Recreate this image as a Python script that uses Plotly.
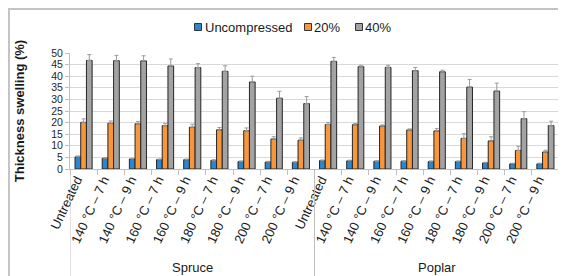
import plotly.graph_objects as go

groups = ["Spruce", "Poplar"]
treatments = ["Untreated", "140 °C – 7 h", "140 °C – 9 h", "160 °C – 7 h", "160 °C – 9 h",
              "180 °C – 7 h", "180 °C – 9 h", "200 °C – 7 h", "200 °C – 9 h"]
tick_labels = treatments + treatments

uncompressed = [5.2, 4.6, 4.3, 4.0, 4.0, 3.7, 3.2, 3.0, 2.9,
                3.6, 3.5, 3.3, 3.3, 3.2, 3.2, 2.6, 2.2, 2.2]
uncompressed_err = [0.4, 0.3, 0.3, 0.3, 0.3, 0.3, 0.3, 0.3, 0.3,
                    0.3, 0.3, 0.3, 0.3, 0.3, 0.3, 0.3, 0.3, 0.3]
c20 = [20.1, 19.7, 19.5, 18.7, 18.0, 16.9, 16.5, 12.9, 12.4,
       19.2, 19.1, 18.5, 16.8, 16.4, 13.2, 12.1, 8.0, 7.3]
c20_err = [1.5, 1.0, 1.0, 1.0, 1.3, 1.0, 1.2, 1.0, 1.0,
           0.8, 0.5, 0.5, 0.5, 1.0, 2.0, 1.8, 1.8, 0.8]
c40 = [46.8, 46.7, 46.6, 44.4, 43.7, 42.1, 37.5, 30.5, 28.2,
       46.4, 44.1, 43.8, 42.4, 41.9, 35.3, 33.6, 21.7, 18.7]
c40_err = [2.5, 2.3, 2.2, 3.0, 1.7, 2.4, 2.5, 3.0, 3.0,
           1.7, 0.6, 0.9, 1.4, 0.7, 3.3, 3.4, 3.0, 1.9]

series_names = ["Uncompressed", "20%", "40%"]
series_colors = ["#2a86cf", "#f7963a", "#a3a3a3"]

x = list(range(len(tick_labels)))
n_per_group = len(treatments)

fig = go.Figure()
for name, vals, errs, col in zip(series_names, [uncompressed, c20, c40],
                                 [uncompressed_err, c20_err, c40_err], series_colors):
    fig.add_trace(go.Bar(
        x=x, y=vals, name=name, showlegend=False,
        marker=dict(color=col, line=dict(color="#262626", width=1)),
        error_y=dict(type="data", array=errs, arrayminus=[0] * len(errs), symmetric=False,
                     color="#9a9a9a", thickness=1, width=2),
    ))

# plot-area geometry (pixels)
L, R, T, B = 62, 551, 45, 161
W, H = 566, 276
pw, ph = R - L, B - T

def px_y(py):
    return (B - py) / ph

def px_x(pxx):
    return (pxx - L) / pw

shapes = []
# group separators
for xv in [-0.5, n_per_group - 0.5, len(x) - 0.5]:
    shapes.append(dict(type="line", xref="x", yref="paper", x0=xv, x1=xv,
                       y0=0, y1=px_y(268), line=dict(color="#bfbfbf", width=1)))
# outer border
shapes.append(dict(type="rect", xref="paper", yref="paper",
                   x0=px_x(1), x1=px_x(565), y0=px_y(274), y1=px_y(1),
                   line=dict(color="#c4c4c4", width=2), layer="below"))

annotations = []
for gi, g in enumerate(groups):
    annotations.append(dict(text=g, xref="x", yref="paper",
                            x=gi * n_per_group + (n_per_group - 1) / 2, y=px_y(259),
                            showarrow=False, xanchor="center", yanchor="middle",
                            font=dict(size=13, color="#1a1a1a")))

# legend (drawn as keys + labels)
legend_key_x = [190, 300, 351]
legend_text_x = [195, 304, 355]
legend_y = 19
for name, col, kx, tx in zip(series_names, series_colors, legend_key_x, legend_text_x):
    shapes.append(dict(type="rect", xref="paper", yref="paper",
                       x0=px_x(kx - 3.5), x1=px_x(kx + 3.5),
                       y0=px_y(legend_y + 3.5), y1=px_y(legend_y - 3.5),
                       fillcolor=col, line=dict(color="#333333", width=1)))
    annotations.append(dict(text=name, xref="paper", yref="paper",
                            x=px_x(tx), y=px_y(legend_y), xanchor="left", yanchor="middle",
                            showarrow=False, font=dict(size=13, color="#1a1a1a")))

fig.update_layout(
    width=W, height=H,
    margin=dict(l=L, r=W - R, t=T, b=H - B, autoexpand=False),
    paper_bgcolor="white", plot_bgcolor="white",
    font=dict(family="Liberation Sans, Arial, sans-serif", color="#1a1a1a"),
    barmode="group", bargap=0.37, bargroupgap=0,
    showlegend=False,
    shapes=shapes, annotations=annotations,
)
fig.update_xaxes(
    range=[-0.5, len(x) - 0.5], tickvals=x, ticktext=tick_labels, tickangle=-65,
    tickfont=dict(size=13, color="#1a1a1a"), ticks="", showgrid=False,
    showline=True, linecolor="#bfbfbf", linewidth=1, zeroline=False,
    minor=dict(tickvals=[i - 0.5 for i in range(len(x) + 1)], ticks="outside",
               ticklen=5, tickcolor="#bfbfbf", showgrid=False),
    ticklabelstandoff=-3, ticklabelshift=-7,
    automargin=False,
)
fig.update_yaxes(
    range=[0, 50], dtick=5, tickfont=dict(size=10.5, color="#262626"),
    showgrid=True, gridcolor="#d9d9d9", gridwidth=1, zeroline=False,
    showline=True, linecolor="#bfbfbf", linewidth=1,
    ticks="outside", ticklen=4, tickcolor="#bfbfbf",
    title=dict(text="<b>Thickness swelling (%)</b>", font=dict(size=13, color="#1a1a1a"),
               standoff=23),
    automargin=False,
)

fig.write_html("out.html")
